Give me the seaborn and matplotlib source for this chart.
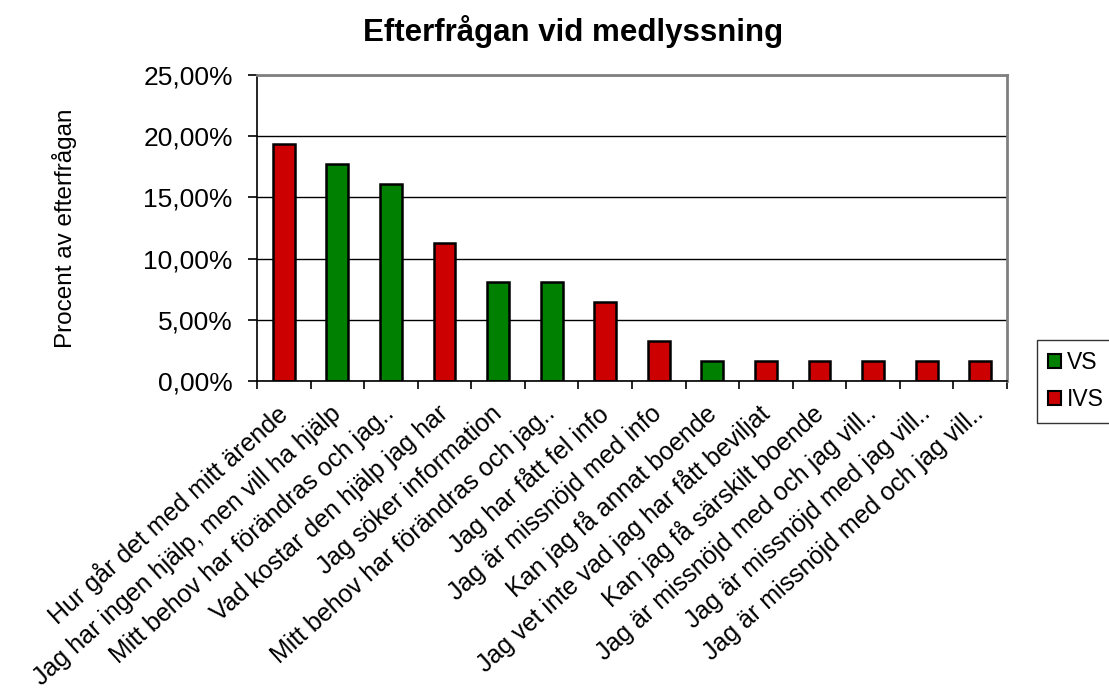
import matplotlib
matplotlib.use("Agg")
import matplotlib.pyplot as plt
from matplotlib.patches import Patch
from matplotlib.ticker import FuncFormatter, FixedLocator
import seaborn as sns
import pandas as pd
import numpy as np

# Data
categories = [
    "Hur går det med mitt ärende",
    "Jag har ingen hjälp, men vill ha hjälp",
    "Mitt behov har förändras och jag..",
    "Vad kostar den hjälp jag har",
    "Jag söker information",
    "Mitt behov har förändras och jag..",
    "Jag har fått fel info",
    "Jag är missnöjd med info",
    "Kan jag få annat boende",
    "Jag vet inte vad jag har fått beviljat",
    "Kan jag få särskilt boende",
    "Jag är missnöjd med och jag vill..",
    "Jag är missnöjd med jag vill..",
    "Jag är missnöjd med och jag vill..",
]
shares = [0.1935, 0.1774, 0.1613, 0.1129, 0.0806, 0.0806, 0.0645, 0.0323,
          0.0161, 0.0161, 0.0161, 0.0161, 0.0161, 0.0161]
groups = ["IVS", "VS", "VS", "IVS", "VS", "VS", "IVS", "IVS",
          "VS", "IVS", "IVS", "IVS", "IVS", "IVS"]
series_order = ["VS", "IVS"]
palette = {"VS": "#008000", "IVS": "#CC0000"}

df = pd.DataFrame({"pos": np.arange(len(categories)),
                   "andel": shares, "grupp": groups})

sns.set_theme(style="white")
plt.rcParams["font.family"] = ["Liberation Sans", "DejaVu Sans"]
plt.rcParams["text.color"] = "black"
plt.rcParams["axes.labelcolor"] = "black"
plt.rcParams["xtick.color"] = "black"
plt.rcParams["ytick.color"] = "black"

W, H = 1109, 690
fig = plt.figure(figsize=(W / 100, H / 100), dpi=100)
left, right, top, bottom = 257, 1007, 75, 381
ax = fig.add_axes([left / W, 1 - bottom / H, (right - left) / W, (bottom - top) / H])

sns.barplot(data=df, x="pos", y="andel", hue="grupp", hue_order=series_order,
            palette=palette, dodge=False, width=0.41, edgecolor="black",
            linewidth=1.8, saturation=1, legend=False, ax=ax)

ax.set_ylim(0, 0.25)
ax.set_xlim(-0.5, len(categories) - 0.5)
ax.yaxis.set_major_locator(FixedLocator(np.arange(0, 0.2501, 0.05)))
ax.yaxis.set_major_formatter(FuncFormatter(lambda v, _: f"{v*100:.2f}%".replace(".", ",")))
ax.grid(axis="y", color="black", linewidth=1.0)
ax.set_axisbelow(True)

# Category labels at bar centres, tick marks at category boundaries
ax.set_xticks(np.arange(len(categories)))
ax.set_xticklabels(categories, rotation=42, ha="right", va="center",
                   rotation_mode="anchor", fontsize=18)
ax.set_xticks(np.arange(-0.5, len(categories)), minor=True)
ax.tick_params(axis="x", which="major", length=0, pad=21)
ax.tick_params(axis="x", which="minor", length=6, width=1.2, color="black",
               direction="out", bottom=True)
ax.tick_params(axis="y", length=6.5, width=1.2, color="black", direction="out",
               left=True, labelsize=19, pad=11)
ax.set_xlabel("")
ax.set_ylabel("Procent av efterfrågan", fontsize=17.5, labelpad=48)

for side in ("left", "bottom"):
    ax.spines[side].set_color("black")
    ax.spines[side].set_linewidth(1.2)
for side in ("top", "right"):
    ax.spines[side].set_color("#808080")
    ax.spines[side].set_linewidth(2.0)

fig.suptitle("Efterfrågan vid medlyssning", fontsize=22.5, fontweight="bold",
             x=0.517, y=0.978)

handles = [Patch(facecolor=palette[s], edgecolor="black", linewidth=1.5, label=s)
           for s in series_order]
fig.legend(handles=handles, loc="upper left", bbox_to_anchor=(1037 / W, 1 - 340 / H),
           frameon=True, fancybox=False, edgecolor="black", fontsize=16.5,
           handlelength=0.55, handleheight=0.55, handletextpad=0.25,
           borderpad=0.5, labelspacing=0.6, borderaxespad=0)

fig.savefig("out.png", dpi=100)
